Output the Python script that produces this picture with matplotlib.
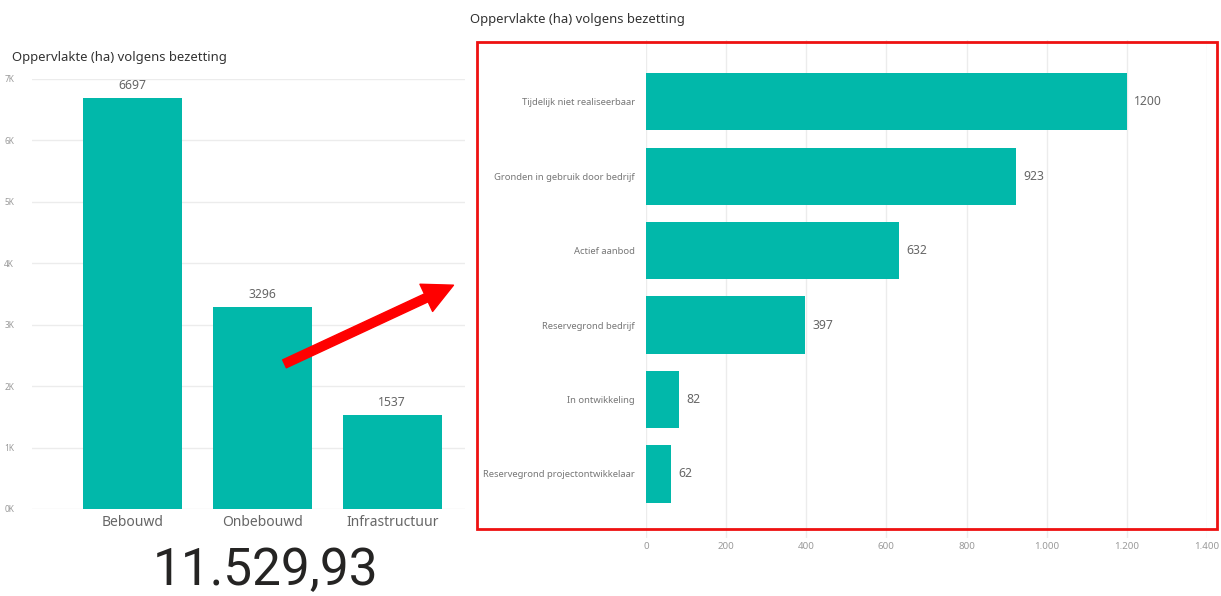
import matplotlib.pyplot as plt
from matplotlib.patches import Rectangle, FancyArrowPatch

# data
left_cats = ['Bebouwd', 'Onbebouwd', 'Infrastructuur']
left_vals = [6697, 3296, 1537]
left_ticks = [0, 1000, 2000, 3000, 4000, 5000, 6000, 7000]
left_ticklabels = ['0K', '1K', '2K', '3K', '4K', '5K', '6K', '7K']
total_label = '11.529,93'

right_cats = ['Tijdelijk niet realiseerbaar', 'Gronden in gebruik door bedrijf',
              'Actief aanbod', 'Reservegrond bedrijf', 'In ontwikkeling',
              'Reservegrond projectontwikkelaar']
right_vals = [1200, 923, 632, 397, 82, 62]
right_ticks = [0, 200, 400, 600, 800, 1000, 1200, 1400]
right_ticklabels = ['0', '200', '400', '600', '800', '1.000', '1.200', '1.400']

title = 'Oppervlakte (ha) volgens bezetting'

teal = '#01B8AA'
grid_c = '#ECECEC'
plt.rcParams['font.family'] = ['Noto Sans', 'DejaVu Sans']

W, H = 1221, 596
fig = plt.figure(figsize=(W / 100, H / 100), dpi=100)


def px(x0, y0, x1, y1):
    return [x0 / W, 1 - y1 / H, (x1 - x0) / W, (y1 - y0) / H]


# left column chart
ax1 = fig.add_axes(px(32, 79, 465, 509))
ax1.bar(range(len(left_vals)), left_vals, width=0.76, color=teal, zorder=2)
ax1.set_xlim(-0.77, 2.56)
ax1.set_ylim(0, 7000)
ax1.set_yticks(left_ticks)
ax1.set_yticklabels(left_ticklabels, fontsize=6, color='#9a9a9a', ha='left')
ax1.tick_params(axis='y', length=0, pad=20)
ax1.set_xticks(range(len(left_cats)))
ax1.set_xticklabels(left_cats, fontsize=10, color='#666666')
ax1.tick_params(axis='x', length=0, pad=4)
ax1.grid(axis='y', color=grid_c, linewidth=1, zorder=0)
for s in ax1.spines.values():
    s.set_visible(False)
for i, v in enumerate(left_vals):
    ax1.text(i, v + 90, str(v), ha='center', va='bottom', fontsize=8.8, color='#666666')
fig.text(12 / W, 1 - 58 / H, title, fontsize=9.4, color='#333333', va='center')
fig.text(266 / W, 1 - 571 / H, total_label, fontsize=37, color='#252423',
         ha='center', va='center', family=['Roboto', 'DejaVu Sans'])

# right bar chart
ax2 = fig.add_axes(px(646, 40, 1207, 538))
ax2.barh(range(len(right_vals)), right_vals, height=0.77, color=teal, zorder=2)
ax2.set_ylim(5.86, -0.83)
ax2.set_xlim(0, 1400)
ax2.set_xticks(right_ticks)
ax2.set_xticklabels(right_ticklabels, fontsize=7, color='#9a9a9a')
ax2.tick_params(axis='x', length=0, pad=3)
ax2.set_yticks(range(len(right_cats)))
ax2.set_yticklabels(right_cats, fontsize=6.8, color='#777777')
ax2.tick_params(axis='y', length=0, pad=8)
ax2.grid(axis='x', color=grid_c, linewidth=1, zorder=0)
for s in ax2.spines.values():
    s.set_visible(False)
for i, v in enumerate(right_vals):
    ax2.text(v + 18, i, str(v), ha='left', va='center', fontsize=8.8, color='#666666')
fig.text(470 / W, 1 - 19 / H, title, fontsize=9.4, color='#333333', va='center')

# red frame and arrow
fig.patches.append(Rectangle((477 / W, 1 - 529 / H), 740 / W, 487 / H,
                             transform=fig.transFigure, fill=False,
                             edgecolor='#ee1111', linewidth=2, zorder=5))
fig.patches.append(FancyArrowPatch((282 / W, 1 - 365 / H), (456 / W, 1 - 284 / H),
                                   transform=fig.transFigure,
                                   arrowstyle='simple,head_length=1.2,head_width=1.2,tail_width=0.35',
                                   mutation_scale=18, color='#ff0000', zorder=6))

fig.savefig('out.png', dpi=100)
